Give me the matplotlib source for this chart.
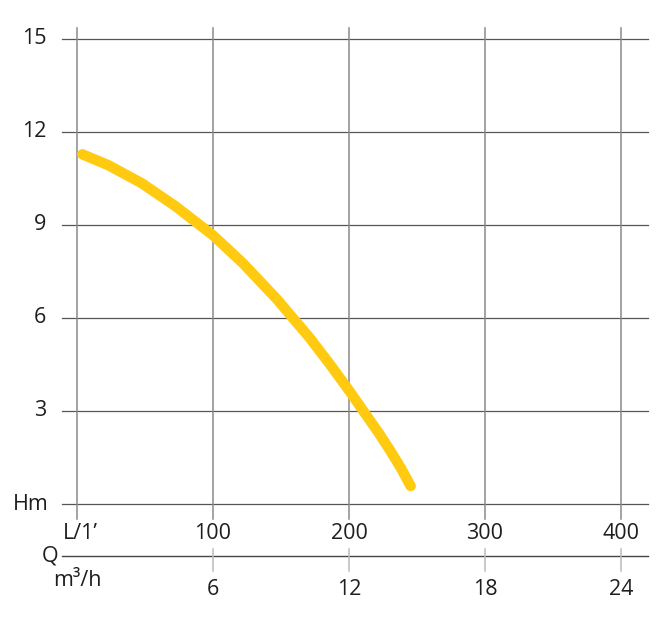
import matplotlib
matplotlib.use("Agg")
import matplotlib.pyplot as plt

# Data
flow_lpm = [3.9, 23, 47.5, 72, 100, 122, 147, 158, 171, 186, 200, 210.5, 222, 230, 238, 245.3]
head_m = [11.27, 10.92, 10.34, 9.61, 8.66, 7.76, 6.6, 6.03, 5.36, 4.5, 3.66, 3.0, 2.28, 1.74, 1.17, 0.58]
h_ticks = [3, 6, 9, 12, 15]
q_lpm_ticks = [100, 200, 300, 400]
q_m3h_ticks = [6, 12, 18, 24]

plt.rcParams['font.family'] = ['Open Sans', 'DejaVu Sans']
fs = 15.5
txt = '#1e1e1e'

fig = plt.figure(figsize=(6.72, 6.24), dpi=100)
ax = fig.add_axes([0, 0, 1, 1])
ax.set_xlim(-77 / 1.36, (672 - 77) / 1.36)
ax.set_ylim((504 - 624) / 31.03, 504 / 31.03)
ax.axis('off')

x_left, x_right = -11, 420
y_bot, y_top = -0.48, 15.34
q2_y = -1.676

# horizontal grid
for h in [0] + h_ticks:
    ax.plot([x_left, x_right], [h, h], color='#555555', lw=0.9, zorder=1)
# vertical grid
for q in [0] + q_lpm_ticks:
    ax.plot([q, q], [y_bot, y_top], color='#8a8a8a', lw=1.1, zorder=1)

# second axis line
ax.plot([x_left, x_right], [q2_y, q2_y], color='#444444', lw=1.0, zorder=1)
for m in q_m3h_ticks:
    q = m * 1000 / 60
    ax.plot([q, q], [-1.45, -2.16], color='#bbbbbb', lw=1.1, zorder=1)

# curve
ax.plot(flow_lpm, head_m, color='#FFCA0F', lw=7.5, solid_capstyle='round',
        solid_joinstyle='round', zorder=3)

# labels
for h in h_ticks:
    ax.text(-22.5, h, str(h), ha='right', va='center', fontsize=fs, color=txt)
ax.text(-21, 0, 'Hm', ha='right', va='center', fontsize=fs, color=txt)
ax.text(2.2, -0.94, "L/1\u2019", ha='center', va='center', fontsize=fs, color=txt)
for q in q_lpm_ticks:
    ax.text(q, -0.94, str(q), ha='center', va='center', fontsize=fs, color=txt)
ax.text(-19.8, q2_y, 'Q', ha='center', va='center', fontsize=fs, color=txt)
ax.text(0, -2.45, 'm\u00b3/h', ha='center', va='center', fontsize=fs, color=txt)
for m in q_m3h_ticks:
    ax.text(m * 1000 / 60, -2.74, str(m), ha='center', va='center', fontsize=fs, color=txt)

fig.savefig('out.png', dpi=100)
